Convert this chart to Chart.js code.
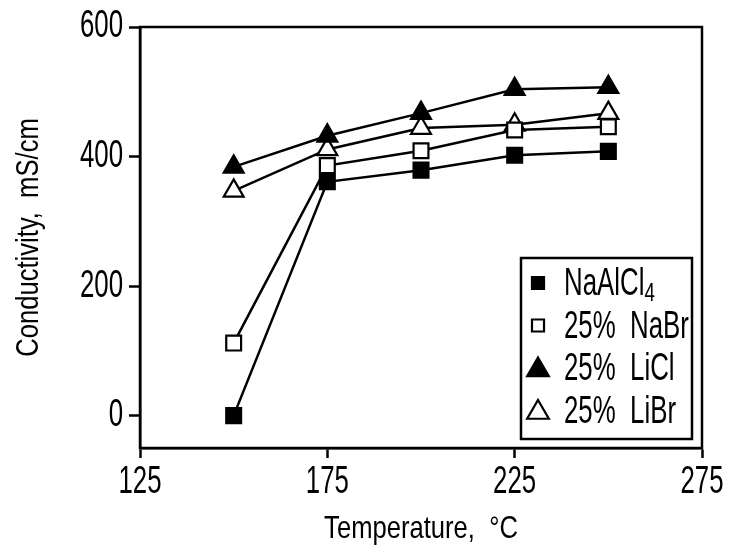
<!DOCTYPE html>
<html>
<head>
<meta charset="utf-8">
<script src="https://cdn.jsdelivr.net/npm/chart.js@4.4.1/dist/chart.umd.min.js"></script>
<style>
  html, body { margin: 0; padding: 0; background: #fff; }
  #wrap { width: 730px; height: 554px; }
</style>
</head>
<body>
<div id="wrap"><canvas id="c" width="730" height="554"></canvas></div>
<script>
// ---- data ----
const temperatures = [150, 175, 200, 225, 250];
const naAlCl4 = [0, 361, 379, 402, 408];
const naBr25 = [112, 386, 409, 441, 446];
const liCl25 = [384, 432, 467, 504, 507];
const liBr25 = [347, 411, 444, 449, 467];
const seriesLabels = ['NaAlCl4', '25%  NaBr', '25%  LiCl', '25%  LiBr'];
const xTickValues = [125, 175, 225, 275];
const yTickValues = [0, 200, 400, 600];
const xTitle = 'Temperature,  \u00B0C';
const yTitle = 'Conductivity,  mS/cm';

const FONT = '"Liberation Sans", Arial, sans-serif';
const TICK_SIZE = 38, LEGEND_SIZE = 38, TITLE_SIZE = 32, SUB_SIZE = 26;
// horizontal condensing per font size (reference uses a narrow typeface)
const condense = { 38: 0.68, 32: 0.80, 26: 0.72 };

function pts(vals) { return temperatures.map((t, i) => ({ x: t, y: vals[i] })); }

const styles = [
  { pointStyle: 'rect', fill: '#000', radius: 10.5 },
  { pointStyle: 'rect', fill: '#fff', radius: 10.5 },
  { pointStyle: 'triangle', fill: '#000', radius: 11.5 },
  { pointStyle: 'triangle', fill: '#fff', radius: 11.5 }
];
const seriesValues = [naAlCl4, naBr25, liCl25, liBr25];

const datasets = seriesValues.map((v, i) => ({
  label: seriesLabels[i],
  data: pts(v),
  borderColor: '#000',
  borderWidth: 2.5,
  backgroundColor: styles[i].fill,
  pointStyle: styles[i].pointStyle,
  pointRadius: styles[i].radius,
  pointHoverRadius: styles[i].radius,
  pointBackgroundColor: styles[i].fill,
  pointBorderColor: '#000',
  pointBorderWidth: 2.2,
  showLine: true,
  tension: 0
}));

// Condense text horizontally around its anchor point
const condensePlugin = {
  id: 'condense',
  beforeInit(chart) {
    const ctx = chart.ctx;
    const orig = ctx.fillText.bind(ctx);
    ctx.fillText = function (text, x, y, maxWidth) {
      const m = /(\d+(?:\.\d+)?)px/.exec(ctx.font);
      const sx = m && condense[Math.round(parseFloat(m[1]))] ? condense[Math.round(parseFloat(m[1]))] : 1;
      ctx.save();
      ctx.translate(x, y);
      ctx.scale(sx, 1);
      if (maxWidth === undefined) orig(text, 0, 0); else orig(text, 0, 0, maxWidth / sx);
      ctx.restore();
    };
  }
};

const framePlugin = {
  id: 'frame',
  afterDraw(chart) {
    const { ctx, chartArea: a } = chart;
    ctx.save();
    ctx.strokeStyle = '#000';
    ctx.lineWidth = 2.5;
    ctx.strokeRect(a.left, a.top, a.right - a.left, a.bottom - a.top);
    ctx.restore();
  }
};

const legendPlugin = {
  id: 'boxLegend',
  afterDraw(chart) {
    const { ctx, chartArea: a } = chart;
    const w = 171, h = 181;
    const left = a.right - 10 - w;
    const top = a.bottom - 9 - h;
    ctx.save();
    ctx.fillStyle = '#fff';
    ctx.fillRect(left, top, w, h);
    ctx.strokeStyle = '#000';
    ctx.lineWidth = 2.5;
    ctx.strokeRect(left, top, w, h);
    chart.data.datasets.forEach((ds, i) => {
      const cy = top + 25 + i * 42.5;
      const mx = left + 17;
      ctx.fillStyle = ds.pointBackgroundColor;
      ctx.strokeStyle = '#000';
      ctx.lineWidth = 2.2;
      const isTri = ds.pointStyle === 'triangle';
      const r = isTri ? 12.5 : 8.5;
      Chart.helpers.drawPoint(ctx, { pointStyle: ds.pointStyle, radius: r, borderWidth: 2.2, rotation: 0 }, mx, cy + (isTri ? 2 : 0));
      ctx.fillStyle = '#000';
      ctx.textBaseline = 'alphabetic';
      ctx.textAlign = 'left';
      const label = ds.label;
      const m = label.match(/^([A-Za-z]+?)(\d)$/);
      const baseY = cy + 12;
      ctx.font = LEGEND_SIZE + 'px ' + FONT;
      if (m) {
        ctx.fillText(m[1], left + 43, baseY);
        const wMain = ctx.measureText(m[1]).width * condense[LEGEND_SIZE];
        ctx.font = SUB_SIZE + 'px ' + FONT;
        ctx.fillText(m[2], left + 43 + wMain, baseY + 6);
      } else {
        ctx.fillText(label, left + 43, baseY);
      }
    });
    ctx.restore();
  }
};

new Chart(document.getElementById('c'), {
  type: 'scatter',
  data: { datasets },
  plugins: [condensePlugin, framePlugin, legendPlugin],
  options: {
    responsive: false,
    animation: false,
    devicePixelRatio: 1,
    layout: { padding: { left: 0, top: 27, right: 28, bottom: 0 } },
    plugins: { legend: { display: false }, tooltip: { enabled: false } },
    scales: {
      x: {
        type: 'linear',
        min: 125, max: 275,
        afterFit(s) { s.height = 106; s.paddingLeft = 0; s.paddingRight = 0; },
        afterBuildTicks(s) { s.ticks = xTickValues.map(v => ({ value: v })); },
        ticks: { color: '#000', font: { family: FONT, size: TICK_SIZE }, padding: 2, maxRotation: 0, autoSkip: false },
        grid: { display: true, drawOnChartArea: false, drawTicks: true, tickLength: 10, tickWidth: 2.5, tickColor: '#000', color: '#000' },
        border: { display: true, color: '#000', width: 2.5 },
        title: { display: true, text: xTitle, color: '#000', font: { family: FONT, size: TITLE_SIZE }, padding: { top: 0, bottom: 6 } }
      },
      y: {
        type: 'linear',
        min: -50, max: 600,
        afterFit(s) { s.width = 140; s.paddingTop = 0; s.paddingBottom = 0; },
        afterBuildTicks(s) { s.ticks = yTickValues.map(v => ({ value: v })); },
        ticks: { color: '#000', font: { family: FONT, size: TICK_SIZE }, padding: 6, autoSkip: false },
        grid: { display: true, drawOnChartArea: false, drawTicks: true, tickLength: 11, tickWidth: 2.5, tickColor: '#000', color: '#000' },
        border: { display: true, color: '#000', width: 2.5 },
        title: { display: true, text: yTitle, color: '#000', font: { family: FONT, size: TITLE_SIZE }, padding: { top: 10, bottom: 0 } }
      }
    }
  }
});
</script>
</body>
</html>
